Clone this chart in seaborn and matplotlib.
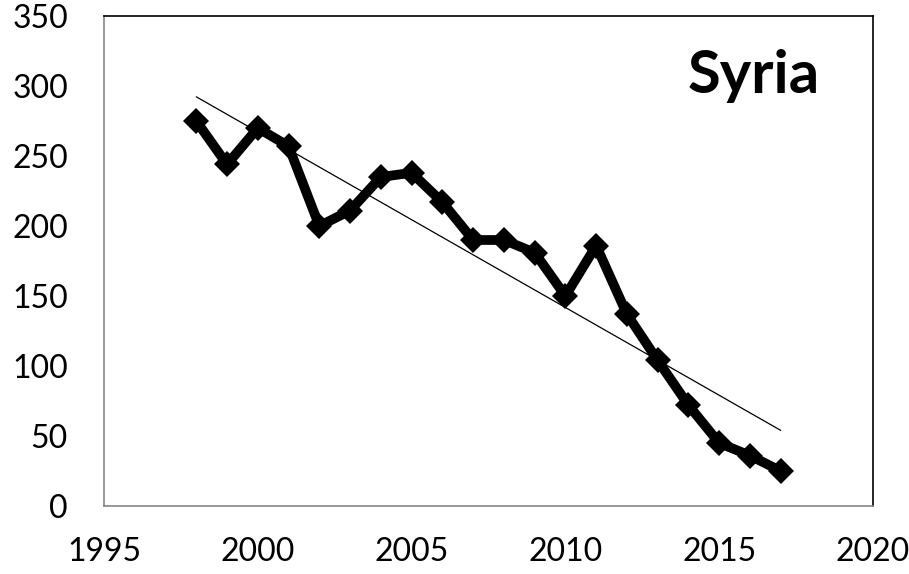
import matplotlib
matplotlib.use("Agg")
import matplotlib.pyplot as plt
import seaborn as sns
import pandas as pd

years = [1998, 1999, 2000, 2001, 2002, 2003, 2004, 2005, 2006, 2007,
         2008, 2009, 2010, 2011, 2012, 2013, 2014, 2015, 2016, 2017]
values = [275, 244, 270, 257, 200, 211, 235, 238, 217, 190,
          190, 181, 150, 186, 137, 104, 72, 45, 36, 25]
x_ticks = [1995, 2000, 2005, 2010, 2015, 2020]
y_ticks = [0, 50, 100, 150, 200, 250, 300, 350]
title = "Syria"

df = pd.DataFrame({"year": years, "value": values})

sns.set_theme(style="white")
plt.rcParams["font.family"] = ["Lato", "DejaVu Sans"]

fig = plt.figure(figsize=(9.09, 5.74), dpi=100)
ax = fig.add_axes([104 / 909, 68 / 574, 769 / 909, 490 / 574])

sns.regplot(data=df, x="year", y="value", scatter=False, ci=None, ax=ax,
            color="black", line_kws={"linewidth": 0.9})
sns.lineplot(data=df, x="year", y="value", ax=ax, color="black",
             linewidth=7, marker="D", markersize=13, markeredgewidth=0)

ax.set_xlim(1995, 2020)
ax.set_ylim(0, 350)
ax.set_xticks(x_ticks)
ax.set_yticks(y_ticks)
ax.set_xlabel("")
ax.set_ylabel("")

gray = "#868686"
for side in ["left", "bottom"]:
    ax.spines[side].set_color(gray)
    ax.spines[side].set_linewidth(1.2)
for side in ["top", "right"]:
    ax.spines[side].set_color("black")
    ax.spines[side].set_linewidth(1.2)

ax.tick_params(axis="both", which="major", direction="out", length=8,
               width=1, color=gray, labelsize=23, labelcolor="black")
ax.tick_params(axis="y", pad=18)
ax.tick_params(axis="x", pad=14)

ax.text(0.759, 0.843, title, transform=ax.transAxes, fontsize=43,
        fontweight="bold", ha="left", va="baseline", color="black")

fig.savefig("out.png", dpi=100)
